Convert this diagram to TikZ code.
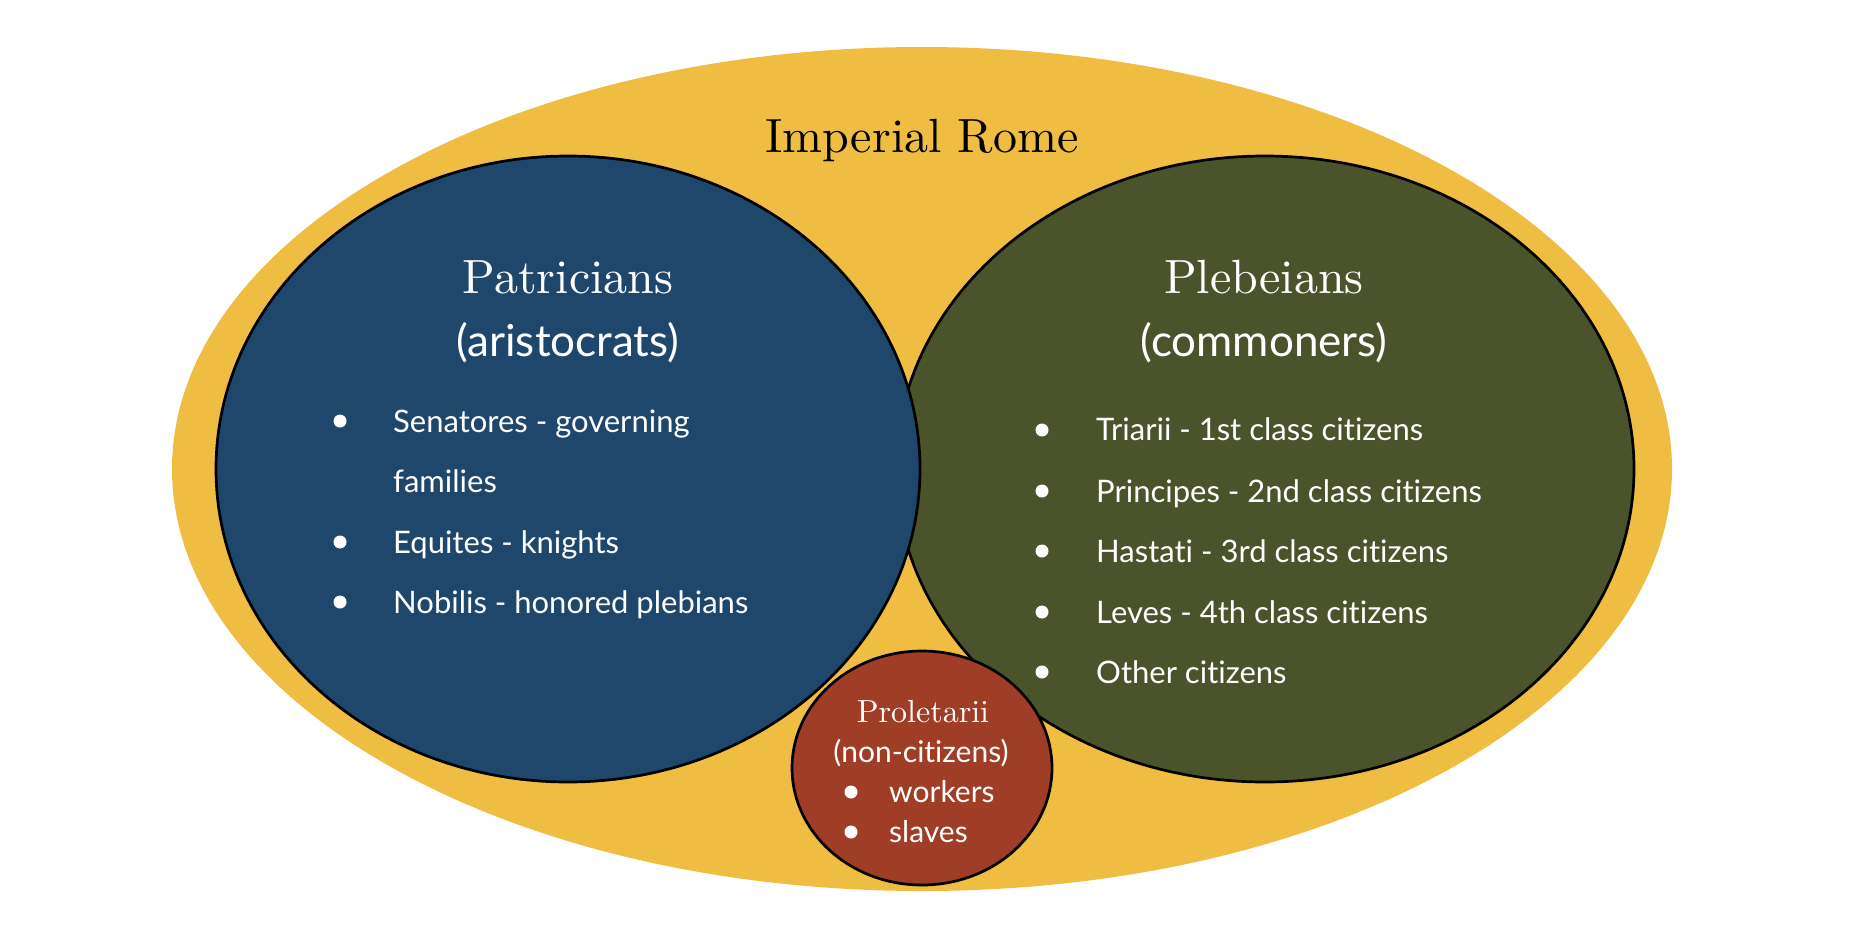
\documentclass[tikz,border=0pt]{standalone}
\usepackage{fontspec}
\usepackage{tikz}
\usetikzlibrary{positioning}
\usepackage{xcolor}
\newfontfamily\listfont{Lato}[Ligatures=NoCommon]
\newfontfamily\headfont{lmroman10-regular}[Extension=.otf]
\definecolor{romegold}{HTML}{EFBD42}
\definecolor{patblue}{HTML}{1F476B}
\definecolor{plebgreen}{HTML}{4B532A}
\definecolor{prolred}{HTML}{A03D26}
\tikzset{
  classset/.style = {draw=black, line width=2.7pt},
  heading/.style  = {anchor=base, inner sep=0pt,
                     font=\headfont\fontsize{48}{58}\selectfont},
  subhead/.style  = {anchor=base, inner sep=0pt, text=white,
                     font=\listfont\fontsize{44}{52}\selectfont},
  entry/.style    = {anchor=base west, inner sep=0pt, text=white,
                     font=\listfont\fontsize{31}{36}\selectfont},
  smallentry/.style = {entry, font=\listfont\fontsize{30}{36}\selectfont},
  dot/.style      = {fill=white},
}

\begin{document}
\begin{tikzpicture}[x=1pt, y=-1pt]
\useasboundingbox (0,0) rectangle (1852,932);
% ---- empire ----
\fill[romegold] (922,469) ellipse [x radius=750, y radius=422];
\node[heading] (rome) at (922,152) {Imperial Rome};
% ---- plebeians ----
\fill[plebgreen, classset] (1265,469) ellipse [x radius=369, y radius=313];
\node[heading, text=white] (pleb) at (1264,293) {Plebeians};
\node[subhead] (plebsub) at (1264,356) {(commoners)};
\fill[dot] (1042,430) circle (6.5);
\node[entry] (triarii) at (1096,440) {Triarii - 1st class citizens};
\fill[dot] (1042,491) circle (6.5);
\node[entry] (principes) at (1096,502) {Principes - 2nd class citizens};
\fill[dot] (1042,551) circle (6.5);
\node[entry] (hastati) at (1096,562) {Hastati - 3rd class citizens};
\fill[dot] (1042,612) circle (6.5);
\node[entry] (leves) at (1096,623) {Leves - 4th class citizens};
\fill[dot] (1042,672) circle (6.5);
\node[entry] (other) at (1096,683) {Other citizens};
% ---- patricians ----
\fill[patblue, classset] (568,469) ellipse [x radius=352, y radius=313];
\node[heading, text=white] (pat) at (568,293) {Patricians};
\node[subhead] (patsub) at (568,356) {(aristocrats)};
\fill[dot] (340,421) circle (6.5);
\node[entry] (senatores) at (393,432) {Senatores - governing};
\node[entry] (families) at (393,492) {families};
\fill[dot] (340,542) circle (6.5);
\node[entry] (equites) at (393,553) {Equites - knights};
\fill[dot] (340,602) circle (6.5);
\node[entry] (nobilis) at (393,613) {Nobilis - honored plebians};
% ---- proletarii ----
\fill[prolred, classset] (922,768) ellipse [x radius=130, y radius=117];
\node[heading, text=white, font=\headfont\fontsize{32}{40}\selectfont]
      (prol) at (923,722) {Proletarii};
\node[subhead, font=\listfont\fontsize{30}{36}\selectfont]
      (prolsub) at (921,762) {(non-citizens)};
\fill[dot] (851,792) circle (6.5);
\node[smallentry] (workers) at (889,802) {workers};
\fill[dot] (851,832) circle (6.5);
\node[smallentry] (slaves) at (889,842) {slaves};
\end{tikzpicture}
\end{document}
